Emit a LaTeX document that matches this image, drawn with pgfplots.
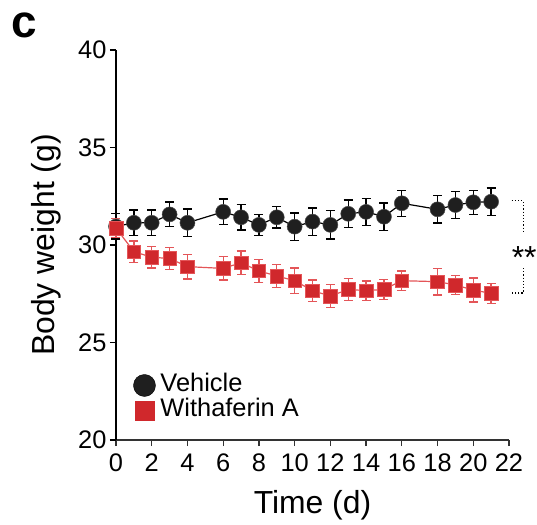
\documentclass[border=0pt]{standalone}
\usepackage{pgfplots}
\pgfplotsset{compat=1.18}
\usepackage{pgfplotstable}
\usepackage{fontspec}
\setmainfont{Liberation Sans}
\definecolor{wared}{RGB}{208,40,44}
\definecolor{walight}{RGB}{228,85,88}
\pgfplotstableread{
x y e
0 30.95 0.65
1 31.14 0.65
2 31.14 0.65
3 31.57 0.63
4 31.14 0.70
6 31.70 0.66
7 31.42 0.65
8 31.03 0.55
9 31.42 0.55
10 30.94 0.70
11 31.20 0.70
12 31.03 0.73
13 31.60 0.70
14 31.70 0.70
15 31.45 0.70
16 32.14 0.67
18 31.83 0.70
19 32.05 0.70
20 32.19 0.62
21 32.22 0.71
}\vehicle
\pgfplotstableread{
x y e
0 30.87 0.50
1 29.66 0.55
2 29.37 0.55
3 29.31 0.55
4 28.89 0.64
6 28.80 0.60
7 29.09 0.60
8 28.67 0.60
9 28.41 0.60
10 28.17 0.65
11 27.66 0.55
12 27.38 0.60
13 27.72 0.55
14 27.66 0.50
15 27.72 0.50
16 28.17 0.50
18 28.12 0.68
19 27.95 0.50
20 27.69 0.62
21 27.52 0.51
}\withaferin
\begin{document}
\begin{tikzpicture}
\begin{axis}[
  name=ax,
  scale only axis,
  width=393bp, height=390bp,
  xmin=0, xmax=22, ymin=20, ymax=40,
  xtick={0,2,...,22}, ytick={20,25,30,35,40},
  axis x line=bottom, axis y line=left,
  x axis line style={-, line width=1.4bp, black!80},
  y axis line style={-, line width=2.3bp, black},
  xtick style={black!80, line width=1.2bp},
  ytick style={black, line width=1.2bp},
  major tick length=6bp,
  tick align=outside,
  tick label style={font=\fontsize{25.5}{28}\selectfont},
  xticklabel style={yshift=-4bp},
  /pgf/number format/assume math mode=true,
  xlabel={Time (d)}, ylabel={Body weight (g)},
  label style={font=\fontsize{32}{36}\selectfont},
  xlabel style={yshift=-12bp},
  ylabel style={yshift=10bp},
  clip=false,
  legend cell align=left,
  legend style={draw=none, fill=none, at={(axis cs:0.8,23.55)}, anchor=north west,
    font=\fontsize{25.5}{28}\selectfont, row sep=0bp,
    nodes={inner sep=1bp, text height=18bp, text depth=5bp}},
]
\addlegendimage{only marks, mark=*, mark size=11bp, black, fill=black!88}
\addlegendentry{\hspace{4bp}Vehicle}
\addlegendimage{only marks, mark=square*, mark size=9.5bp, wared, fill=wared}
\addlegendentry{\hspace{4bp}Withaferin A}

\addplot+[forget plot, black, line width=1.2bp, mark=*, mark size=7.5bp,
  mark options={fill=black!88, draw=black!70, line width=0.5bp},
  error bars/.cd, y dir=both, y explicit,
  error mark options={rotate=90, mark size=4.5bp, line width=1.3bp, black},
  error bar style={line width=1.3bp, black}]
  table[x=x, y=y, y error=e]{\vehicle};
\addplot+[forget plot, walight, line width=1.2bp, mark=square*, mark size=6.8bp,
  mark options={fill=wared, draw=walight, line width=0.5bp},
  error bars/.cd, y dir=both, y explicit,
  error mark options={rotate=90, mark size=4.5bp, line width=1.3bp, walight},
  error bar style={line width=1.3bp, walight}]
  table[x=x, y=y, y error=e]{\withaferin};

\draw[dotted, line width=1.2bp] (axis cs:22.15,32.27) -- (axis cs:22.79,32.27) -- (axis cs:22.79,30.63);
\draw[dotted, line width=1.2bp] (axis cs:22.79,28.82) -- (axis cs:22.79,27.54) -- (axis cs:22.15,27.54);
\node[anchor=base, font=\fontsize{32}{34}\selectfont, inner sep=0pt] at (axis cs:22.85,28.82) {**};
\end{axis}
\node[anchor=base west, font=\bfseries\fontsize{46}{48}\selectfont, inner sep=0pt]
  at ([shift={(-105bp,12bp)}]ax.north west) {c};
\pgfresetboundingbox
\path ([shift={(-116bp,-85bp)}]ax.south west) rectangle ([shift={(28bp,50bp)}]ax.north east);
\end{tikzpicture}
\end{document}
